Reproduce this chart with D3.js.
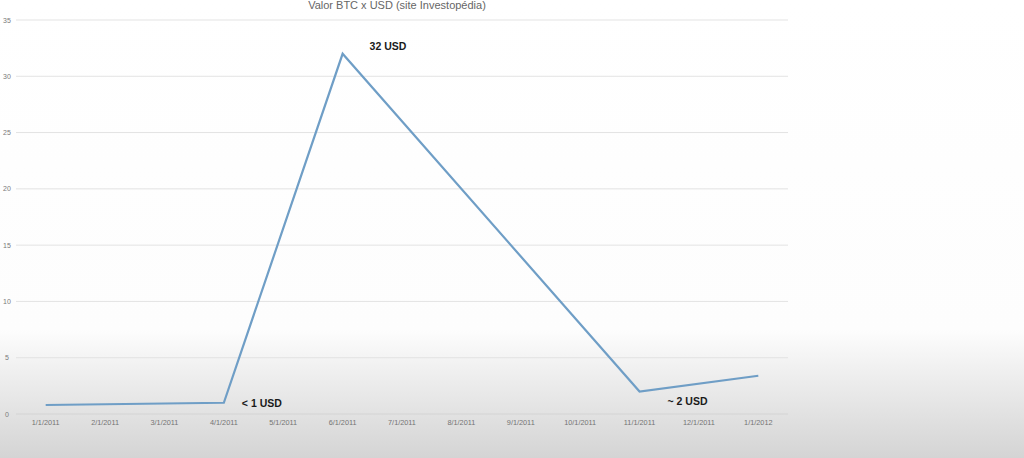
<!DOCTYPE html>
<html><head><meta charset="utf-8">
<script src="https://cdn.jsdelivr.net/npm/d3@7"></script>
<style>html,body{margin:0;padding:0;background:#fff;}svg{display:block;}</style>
</head><body>
<script>
const months = ["1/1/2011","2/1/2011","3/1/2011","4/1/2011","5/1/2011","6/1/2011","7/1/2011","8/1/2011","9/1/2011","10/1/2011","11/1/2011","12/1/2011","1/1/2012"];
const pointDates = ["1/1/2011","4/1/2011","6/1/2011","11/1/2011","1/1/2012"];
const pointValues = [0.8, 1.0, 32, 2.0, 3.4];
const yTicks = [0,5,10,15,20,25,30,35];
const title = "Valor BTC x USD (site Investopédia)";
const annotDates = ["6/1/2011","4/1/2011","11/1/2011"];
const annotValues = [32, 1.0, 2.0];
const annotTexts = ["32 USD","< 1 USD","~ 2 USD"];

const W=1024,H=458;
const svg=d3.select("body").append("svg").attr("width",W).attr("height",H);
const defs=svg.append("defs");
const g=defs.append("linearGradient").attr("id","bg").attr("x1",0).attr("y1",0).attr("x2",0).attr("y2",1);
g.append("stop").attr("offset","0%").attr("stop-color","#ffffff");
g.append("stop").attr("offset","72%").attr("stop-color","#fdfdfd");
g.append("stop").attr("offset","80%").attr("stop-color","#f1f1f1");
g.append("stop").attr("offset","100%").attr("stop-color","#d4d4d4");
svg.append("rect").attr("width",W).attr("height",H).attr("fill","url(#bg)");

const x=d3.scaleBand().domain(months).range([16,788]);
const y=d3.scaleLinear().domain([0,35]).range([414,20]);
const cx=d=>x(d)+x.bandwidth()/2;

svg.append("g").selectAll("line").data(yTicks.filter(t=>t>0)).join("line")
 .attr("x1",16).attr("x2",788).attr("y1",d=>y(d)).attr("y2",d=>y(d))
 .attr("stroke","#e3e3e3").attr("stroke-width",1);
svg.append("line").attr("x1",16).attr("x2",788).attr("y1",y(0)).attr("y2",y(0)).attr("stroke","#d4d4d4");

svg.append("g").selectAll("text").data(yTicks).join("text")
 .attr("x",7).attr("y",d=>y(d)+2.5).attr("text-anchor","middle")
 .attr("font-family","Liberation Sans, Arial, sans-serif").attr("font-size",7).attr("fill","#7a7a7a").text(d=>d);

svg.append("g").selectAll("text").data(months).join("text")
 .attr("x",d=>cx(d)).attr("y",425).attr("text-anchor","middle")
 .attr("font-family","Liberation Sans, Arial, sans-serif").attr("font-size",7.3).attr("fill","#747474").text(d=>d);

const pts=pointDates.map((d,i)=>[cx(d),y(pointValues[i])]);
svg.append("path").attr("d",d3.line()(pts)).attr("fill","none")
 .attr("stroke","#6f9ec6").attr("stroke-width",2.2).attr("stroke-linejoin","miter");

svg.append("text").attr("x",397).attr("y",9).attr("text-anchor","middle")
 .attr("font-family","Liberation Sans, Arial, sans-serif").attr("font-size",11).attr("fill","#666").text(title);

const offs=[[27,-4],[18,4],[28,14]];
svg.append("g").selectAll("text").data(annotTexts).join("text")
 .attr("x",(d,i)=>cx(annotDates[i])+offs[i][0]).attr("y",(d,i)=>y(annotValues[i])+offs[i][1])
 .attr("font-family","Liberation Sans, Arial, sans-serif").attr("font-size",10.5).attr("font-weight","bold").attr("fill","#1a1a1a").text(d=>d);
</script>
</body></html>
